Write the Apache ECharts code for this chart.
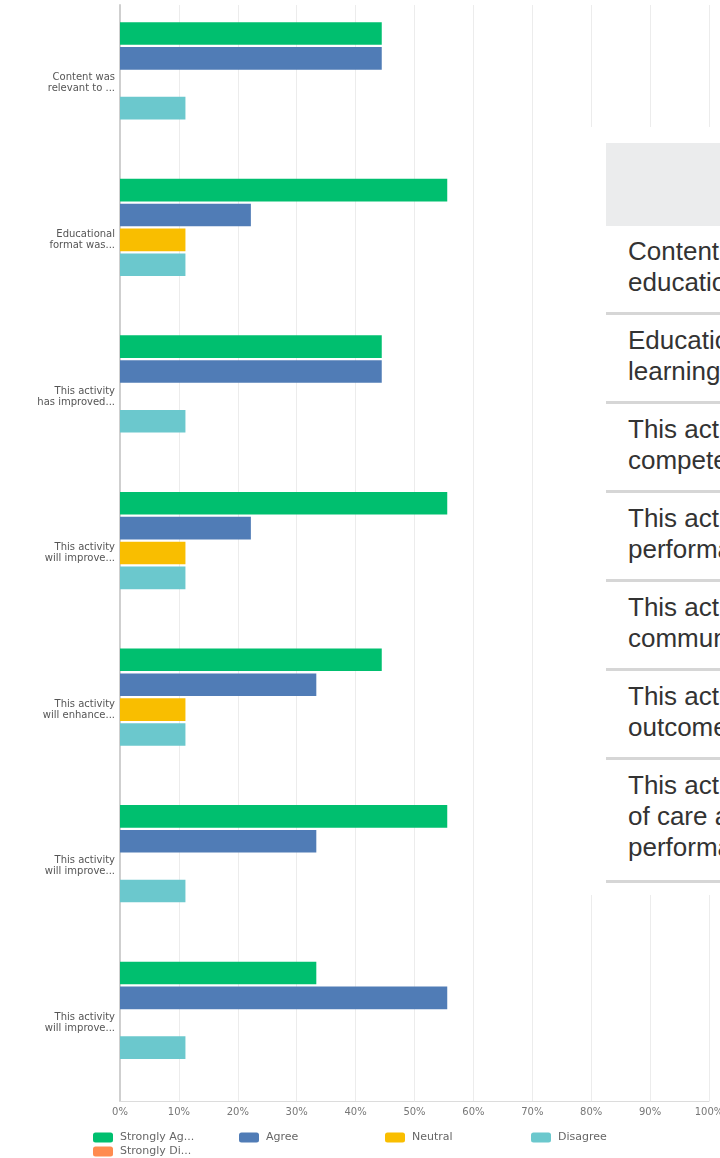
<!DOCTYPE html>
<html>
<head>
<meta charset="utf-8">
<script src="https://cdn.jsdelivr.net/npm/echarts@6/dist/echarts.min.js"></script>
<style>
  html, body { margin: 0; padding: 0; background: #fff; overflow: hidden; }
  #chart { width: 720px; height: 1158px; }
  .table-cover {
    position: absolute; left: 588px; top: 127px; width: 132px; height: 768px;
    background: #fff; overflow: hidden;
  }
  .table-head {
    position: absolute; left: 18px; top: 16px; width: 300px; height: 83px; background: #ebeced;
  }
  .table-rows { position: absolute; left: 18px; top: 99px; width: 300px; }
  .table-row {
    padding: 10px 0 14px 22px; border-bottom: 3px solid #d6d6d6;
    font-family: "Liberation Sans", Arial, sans-serif; font-size: 26px; line-height: 31px;
    color: #333; white-space: nowrap;
  }
  .table-row.tall { padding-bottom: 17px; }
</style>
</head>
<body>
<div id="chart"></div>
<div class="table-cover">
  <div class="table-head"></div>
  <div class="table-rows" id="rows"></div>
</div>
<script>
// answer share per question, n = 9 respondents
const categories = [
  "Content was\nrelevant to ...",
  "Educational\nformat was...",
  "This activity\nhas improved...",
  "This activity\nwill improve...",
  "This activity\nwill enhance...",
  "This activity\nwill improve...",
  "This activity\nwill improve..."
];
const stronglyAgree    = [44.44, 55.56, 44.44, 55.56, 44.44, 55.56, 33.33];
const agree            = [44.44, 22.22, 44.44, 22.22, 33.33, 33.33, 55.56];
const neutral          = [0, 11.11, 0, 11.11, 11.11, 0, 0];
const disagree         = [11.11, 11.11, 11.11, 11.11, 11.11, 11.11, 11.11];
const stronglyDisagree = [0, 0, 0, 0, 0, 0, 0];
const xTicks = [0, 10, 20, 30, 40, 50, 60, 70, 80, 90, 100];

// the table that lies over the right side
const tableRows = [
  ["Content was relevant to my", "educational needs"],
  ["Educational format was conducive to", "learning"],
  ["This activity has improved my", "competence"],
  ["This activity will improve my", "performance"],
  ["This activity will enhance", "communication"],
  ["This activity will improve patient", "outcomes"],
  ["This activity will improve the quality", "of care and/or patient", "performance"]
];

const rowsEl = document.getElementById("rows");
tableRows.forEach(lines => {
  const div = document.createElement("div");
  div.className = lines.length > 2 ? "table-row tall" : "table-row";
  div.innerHTML = lines.join("<br>");
  rowsEl.appendChild(div);
});

const shortNames = {
  "Strongly Agree": "Strongly Ag...",
  "Agree": "Agree",
  "Neutral": "Neutral",
  "Disagree": "Disagree",
  "Strongly Disagree": "Strongly Di..."
};

const labelFont = "DejaVu Sans";
const chart = echarts.init(document.getElementById("chart"));

function bar(name, data, color) {
  return {
    name: name,
    type: "bar",
    data: data,
    barGap: "10%",
    barCategoryGap: "22%",
    itemStyle: { color: color },
    emphasis: { disabled: true }
  };
}

// one legend per item so they sit in fixed columns
function legendItem(name, left, top) {
  return {
    left: left,
    top: top,
    padding: 0,
    itemWidth: 20,
    itemHeight: 10,
    icon: "roundRect",
    data: [name],
    formatter: n => shortNames[n],
    textStyle: { color: "#666", fontSize: 11, fontFamily: labelFont, padding: [0, 0, 0, 2] }
  };
}

chart.setOption({
  animation: false,
  grid: { left: 120, right: 11, top: 5, bottom: 57, outerBoundsMode: "none" },
  legend: [
    legendItem("Strongly Agree", 93, 1132),
    legendItem("Agree", 239, 1132),
    legendItem("Neutral", 385, 1132),
    legendItem("Disagree", 531, 1132),
    legendItem("Strongly Disagree", 93, 1146)
  ],
  xAxis: {
    type: "value",
    min: 0,
    max: 100,
    interval: 10,
    axisLine: { show: true, lineStyle: { color: "#dcdcdc" } },
    axisTick: { show: false },
    axisLabel: {
      color: "#777", fontSize: 10, fontFamily: labelFont, margin: 6,
      formatter: v => xTicks.indexOf(v) >= 0 ? v + "%" : ""
    },
    splitLine: { show: true, lineStyle: { color: "#ececec" } }
  },
  yAxis: {
    type: "category",
    inverse: true,
    data: categories,
    axisLine: { show: true, lineStyle: { color: "#cfcfcf", width: 2 } },
    axisTick: { show: false },
    axisLabel: { color: "#555", fontSize: 10, fontFamily: labelFont, lineHeight: 11, margin: 5, align: "right" }
  },
  series: [
    bar("Strongly Agree", stronglyAgree, "#00bf6f"),
    bar("Agree", agree, "#507cb6"),
    bar("Neutral", neutral, "#f9be00"),
    bar("Disagree", disagree, "#6bc8cd"),
    bar("Strongly Disagree", stronglyDisagree, "#ff8b4f")
  ]
});
</script>
</body>
</html>
